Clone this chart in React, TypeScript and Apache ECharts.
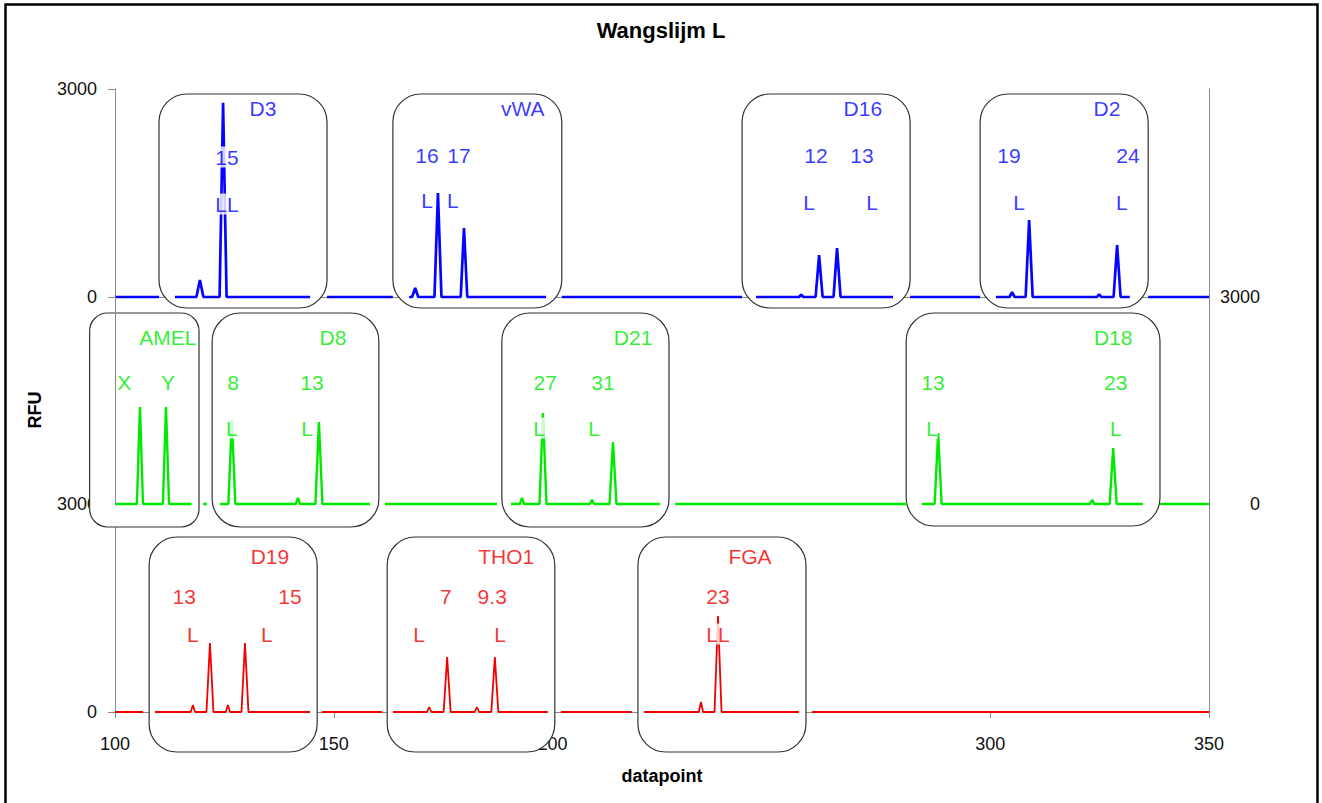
import React, { useEffect, useRef } from "react";
import * as echarts from "echarts";

const FONT = "'Liberation Sans', Arial, Helvetica, sans-serif";

// x-axis range (datapoint) and y-range (RFU) for every panel
const xTicks = [100, 150, 200, 250, 300, 350];
const rfuMax = 3000;

// Traces: [datapoint, RFU]; '-' marks a break in the trace
type Pt = [number, number | string];
const blueTrace: Pt[] = [
  [100, 0], [110.05, 0], [112, "-"],
  [113.7, 0], [118.6, 0], [119.4, 245], [120.2, 0], [123.9, 0], [124.7, 2800], [125.5, 0], [144.6, 0], [146, "-"],
  [148.45, 0], [163.5, 0], [165, "-"],
  [167.2, 0], [167.9, 0], [168.6, 130], [169.3, 0], [173.0, 0], [173.8, 1500], [174.6, 0], [179.0, 0], [179.75, 995], [180.5, 0], [198.5, 0], [200, "-"],
  [202.1, 0], [243.3, 0], [245, "-"],
  [246.5, 0], [256.3, 0], [256.8, 35], [257.3, 0], [260.1, 0], [260.9, 605], [261.7, 0], [264.2, 0], [265.0, 707], [265.8, 0], [277.8, 0], [279, "-"],
  [281.7, 0], [297.7, 0], [299, "-"],
  [301.3, 0], [304.4, 0], [305.0, 70], [305.6, 0], [308.1, 0], [308.9, 1110], [309.7, 0], [324.4, 0], [324.9, 40], [325.4, 0], [328.2, 0], [329.0, 750], [329.8, 0], [331.9, 0], [334, "-"],
  [336.1, 0], [350, 0],
];
const greenTrace: Pt[] = [
  [100, 0], [105.0, 0], [105.7, 1405], [106.4, 0], [110.95, 0], [111.65, 1405], [112.35, 0], [117.5, 0], [119, "-"],
  [120.1, 0], [121.0, 0], [122, "-"],
  [124.0, 0], [125.9, 0], [126.7, 1217], [127.5, 0], [141.3, 0], [141.8, 90], [142.3, 0], [145.8, 0], [146.6, 1188], [147.4, 0], [158.3, 0], [160, "-"],
  [161.7, 0], [187.3, 0], [189, "-"],
  [190.5, 0], [192.5, 0], [193.0, 90], [193.5, 0], [197.0, 0], [197.8, 1318], [198.6, 0], [208.5, 0], [209.0, 60], [209.5, 0], [213.0, 0], [213.8, 898], [214.6, 0], [224.5, 0], [226, "-"],
  [228.0, 0], [281.0, 0], [283, "-"],
  [284.4, 0], [287.3, 0], [288.1, 1029], [288.9, 0], [322.8, 0], [323.3, 60], [323.8, 0], [327.3, 0], [328.1, 811], [328.9, 0], [334.9, 0], [337, "-"],
  [338.8, 0], [350, 0],
];
const redTrace: Pt[] = [
  [100, 0], [106.4, 0], [108, "-"],
  [109.1, 0], [117.3, 0], [117.8, 100], [118.3, 0], [120.9, 0], [121.7, 995], [122.5, 0], [125.3, 0], [125.8, 100], [126.3, 0], [128.9, 0], [129.7, 995], [130.5, 0], [144.6, 0], [146, "-"],
  [147.3, 0], [161.0, 0], [162, "-"],
  [163.5, 0], [171.3, 0], [171.8, 72], [172.3, 0], [175.1, 0], [175.9, 793], [176.7, 0], [182.2, 0], [182.7, 72], [183.2, 0], [186.0, 0], [186.8, 793], [187.6, 0], [198.9, 0], [200, "-"],
  [201.9, 0], [218.1, 0], [219, "-"],
  [220.9, 0], [233.4, 0], [233.9, 144], [234.4, 0], [237.0, 0], [237.8, 1385], [238.6, 0], [256.3, 0], [258, "-"],
  [259.3, 0], [350, 0],
];

// Locus boxes: [from datapoint, to datapoint, top RFU, bottom RFU]
const blueBoxes = [
  [110.05, 148.45, 2928, -159],
  [163.5, 202.1, 2928, -159],
  [243.3, 281.7, 2928, -159],
  [297.7, 336.1, 2928, -159],
];
const greenBoxes = [
  [94.2, 119.2, 2768, -333],
  [122.2, 160.3, 2768, -333],
  [188.4, 226.6, 2768, -333],
  [280.8, 338.8, 2768, -319],
];
const redBoxes = [
  [107.8, 146.2, 2524, -577],
  [162.2, 200.5, 2524, -577],
  [219.5, 257.9, 2524, -577],
];

// Locus names, allele calls and "L" flags: [datapoint, RFU, text]
const blueLabels = [
  [133.8, 2712, "D3"], [125.6, 2019, "15"], [125.6, 1341, "LL"],
  [193.2, 2712, "vWA"], [171.3, 2048, "16"], [178.6, 2048, "17"], [171.3, 1399, "L"], [177.2, 1399, "L"],
  [270.9, 2712, "D16"], [260.2, 2048, "12"], [270.7, 2048, "13"], [258.6, 1370, "L"], [273.0, 1370, "L"],
  [326.7, 2712, "D2"], [304.3, 2048, "19"], [331.5, 2048, "24"], [306.6, 1370, "L"], [330.1, 1370, "L"],
];
const greenLabels = [
  [112.1, 2420, "AMEL"], [102.1, 1768, "X"], [112.1, 1768, "Y"],
  [149.8, 2420, "D8"], [127.0, 1768, "8"], [145.0, 1768, "13"], [126.7, 1101, "L"], [143.9, 1101, "L"],
  [218.4, 2420, "D21"], [198.3, 1768, "27"], [211.5, 1768, "31"], [196.9, 1101, "L"], [209.5, 1101, "L"],
  [328.1, 2420, "D18"], [286.9, 1768, "13"], [328.7, 1768, "23"], [286.7, 1101, "L"], [328.7, 1101, "L"],
];
const redLabels = [
  [135.4, 2236, "D19"], [115.8, 1659, "13"], [140.0, 1659, "15"], [117.8, 1125, "L"], [134.7, 1125, "L"],
  [189.4, 2236, "THO1"], [175.6, 1659, "7"], [186.2, 1659, "9.3"], [169.5, 1125, "L"], [188.0, 1125, "L"],
  [245.1, 2236, "FGA"], [237.8, 1659, "23"], [237.8, 1125, "LL"],
];

const BLUE = "#0505ff";
const GREEN = "#00ea00";
const RED = "#f00000";
const AXIS = "#8a8a8a";

function App() {
  const ref = useRef<HTMLDivElement>(null);
  useEffect(() => {
    if (!ref.current) return;
    const chart = echarts.init(ref.current, null, { renderer: "svg" });

    const xMin = xTicks[0];
    const xMax = xTicks[xTicks.length - 1];
    const xStep = xTicks[1] - xTicks[0];
    const plain = (v: number) => String(v);

    const yAx = (gridIndex: number, position: string, labels: boolean, extra: any = {}) => ({
      type: "value",
      gridIndex,
      position,
      min: 0,
      max: rfuMax,
      interval: rfuMax,
      z: 0,
      splitLine: { show: false },
      axisLine: { show: true, lineStyle: { color: AXIS, width: 1 } },
      axisTick: { show: labels && position === "left", length: 7, lineStyle: { color: AXIS } },
      axisLabel: {
        show: labels,
        fontSize: 18,
        color: "#111",
        fontFamily: FONT,
        margin: 18,
        formatter: plain,
      },
      ...extra,
    });

    const boxRender = (params: any, api: any) => {
      const p0 = api.coord([api.value(0), api.value(2)]);
      const p1 = api.coord([api.value(1), api.value(3)]);
      const narrow = p1[0] - p0[0] < 120;
      return {
        type: "rect",
        shape: { x: p0[0], y: p0[1], width: p1[0] - p0[0], height: p1[1] - p0[1], r: narrow ? 18 : 28 },
        style: { fill: "#fff", stroke: "#333", lineWidth: 1.2 },
      };
    };

    const boxSeries = (data: number[][], idx: number, yIdx: number) => ({
      type: "custom",
      xAxisIndex: idx,
      yAxisIndex: yIdx,
      renderItem: boxRender,
      data,
      clip: false,
      silent: true,
      z: 1,
    });

    const lineSeries = (data: Pt[], color: string, width: number, idx: number, yIdx: number) => ({
      type: "line",
      xAxisIndex: idx,
      yAxisIndex: yIdx,
      data,
      symbol: "none",
      showSymbol: false,
      connectNulls: false,
      lineStyle: { color, width },
      clip: false,
      z: 2,
    });

    const labelSeries = (data: any[], color: string, idx: number, yIdx: number) => ({
      type: "scatter",
      xAxisIndex: idx,
      yAxisIndex: yIdx,
      data,
      symbolSize: 0,
      clip: false,
      silent: true,
      z: 4,
      label: {
        show: true,
        position: "inside",
        formatter: (p: any) => p.data[2],
        color,
        fontSize: 21,
        fontFamily: FONT,
        backgroundColor: "#fff",
        padding: [0, 0],
      },
    });

    const option: any = {
      animation: false,
      backgroundColor: "#fff",
      title: {
        text: "Wangslijm L",
        left: "center",
        top: 14,
        textStyle: { fontSize: 22, fontWeight: "bold", color: "#000", fontFamily: FONT },
      },
      grid: [
        { left: 115, top: 89, width: 1094, height: 208 },
        { left: 115, top: 297, width: 1094, height: 207 },
        { left: 115, top: 504, width: 1094, height: 208 },
      ],
      xAxis: [
        {
          type: "value", gridIndex: 0, position: "top", min: xMin, max: xMax, interval: xStep,
          splitLine: { show: false }, axisTick: { show: false }, axisLabel: { show: false },
          axisLine: { show: true, lineStyle: { color: AXIS, width: 1 } },
        },
        {
          type: "value", gridIndex: 1, min: xMin, max: xMax, interval: xStep, show: false,
        },
        {
          type: "value", gridIndex: 2, position: "bottom", min: xMin, max: xMax, interval: xStep,
          z: 0,
          splitLine: { show: false },
          axisLine: { show: true, lineStyle: { color: AXIS, width: 1 } },
          axisTick: { show: true, length: 6, lineStyle: { color: AXIS } },
          axisLabel: { fontSize: 18, color: "#111", fontFamily: FONT, margin: 23, formatter: plain },
          name: "datapoint",
          nameLocation: "middle",
          nameGap: 55,
          nameTextStyle: { fontSize: 18, fontWeight: "bold", color: "#000", fontFamily: FONT },
        },
      ],
      yAxis: [
        yAx(0, "left", true),
        yAx(0, "right", false),
        yAx(1, "left", false, { z: 6 }),
        yAx(1, "right", true, {
          axisLabel: { show: true, fontSize: 18, color: "#111", fontFamily: FONT, margin: 51, align: "right", formatter: plain },
        }),
        yAx(2, "left", true),
        yAx(2, "right", false),
      ],
      graphic: [
        {
          type: "rect",
          shape: { x: 5.5, y: 4.5, width: 1312, height: 830 },
          style: { fill: "none", stroke: "#000", lineWidth: 2.5 },
          silent: true,
          z: 10,
        },
        {
          type: "text",
          x: 35,
          y: 410,
          rotation: Math.PI / 2,
          style: {
            text: "RFU",
            fontSize: 18,
            fontWeight: "bold",
            fill: "#000",
            fontFamily: FONT,
            textAlign: "center",
            textVerticalAlign: "middle",
          },
        },
      ],
      series: [
        boxSeries(blueBoxes, 0, 0),
        boxSeries(greenBoxes, 1, 2),
        boxSeries(redBoxes, 2, 4),
        lineSeries(blueTrace, BLUE, 2.7, 0, 0),
        lineSeries(greenTrace, GREEN, 2.4, 1, 2),
        lineSeries(redTrace, RED, 1.8, 2, 4),
        labelSeries(blueLabels, BLUE, 0, 0),
        labelSeries(greenLabels, GREEN, 1, 2),
        labelSeries(redLabels, RED, 2, 4),
      ],
    };
    chart.setOption(option);
    return () => chart.dispose();
  }, []);

  return (
    <div
      ref={ref}
      style={{ position: "fixed", left: 0, top: 0, width: 1322, height: 803, background: "#fff" }}
    />
  );
}

export default App;
